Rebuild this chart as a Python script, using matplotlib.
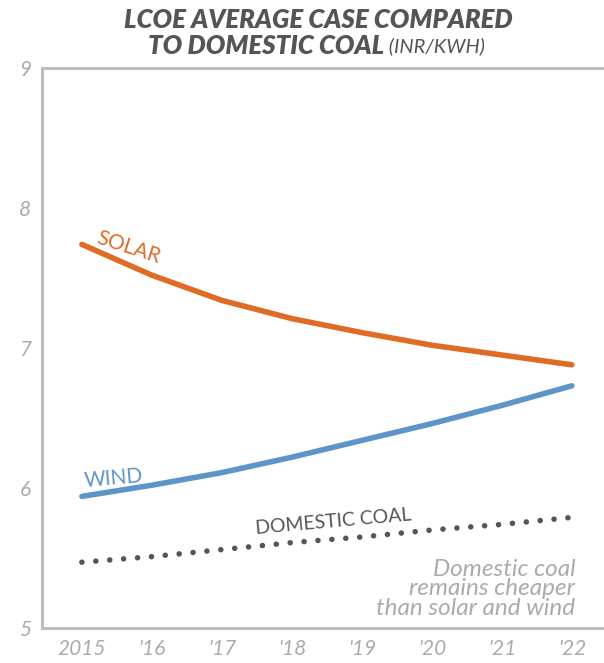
import matplotlib.pyplot as plt

years = [2015, 2016, 2017, 2018, 2019, 2020, 2021, 2022]
year_labels = ['2015', "'16", "'17", "'18", "'19", "'20", "'21", "'22"]
solar = [7.74, 7.52, 7.34, 7.21, 7.11, 7.02, 6.95, 6.88]
wind = [5.94, 6.02, 6.11, 6.22, 6.34, 6.46, 6.59, 6.73]
coal = [5.47, 5.51, 5.56, 5.61, 5.65, 5.70, 5.74, 5.79]
y_ticks = [5, 6, 7, 8, 9]

orange = '#E06B25'
blue = '#5E95C8'
dark = '#555555'
light = '#ABABAB'

fig = plt.figure(figsize=(6.04, 6.63), dpi=100)
ax = fig.add_axes([42/604, 35/663, 1 - 42/604, 560/663])

ax.plot(years, solar, color=orange, lw=4, solid_capstyle='round')
ax.plot(years, wind, color=blue, lw=4, solid_capstyle='round')
ax.plot(years, coal, color=dark, lw=4, ls=(0, (0.01, 2.5)), dash_capstyle='round')

ax.set_xlim(2014.43, 2022.46)
ax.set_ylim(5, 9)
ax.set_xticks(years)
ax.set_xticklabels(year_labels)
ax.set_yticks(y_ticks)
ax.tick_params(length=0, labelsize=15, labelcolor=light, pad=8)
for lab in ax.get_xticklabels() + ax.get_yticklabels():
    lab.set_family('Lato')
    lab.set_style('italic')

for s in ['left', 'top', 'bottom']:
    ax.spines[s].set_color('#BDBDC0')
    ax.spines[s].set_linewidth(2.2)
ax.spines['right'].set_visible(False)

# series labels
ax.text(2015.66, 7.72, 'SOLAR', color=orange, fontsize=15, family='Lato',
        rotation=-18, ha='center', va='center')
ax.text(2015.45, 6.07, 'WIND', color=blue, fontsize=15, family='Lato',
        rotation=5, ha='center', va='center')
ax.text(2018.6, 5.76, 'DOMESTIC COAL', color=dark, fontsize=14, family='Lato',
        rotation=5, ha='center', va='center')
ax.text(2022.05, 5.28, 'Domestic coal\nremains cheaper\nthan solar and wind', color=light,
        fontsize=17.5, family='Lato', style='italic', ha='right', va='center',
        linespacing=0.92)

# title
fig.text(318/604, 1 - 20/663, 'LCOE AVERAGE CASE COMPARED', color=dark, fontsize=18.5,
         family='Lato', style='italic', weight='heavy', ha='center', va='center')
t2 = fig.text(384/604, 1 - 46/663, 'TO DOMESTIC COAL', color=dark, fontsize=18.5,
              family='Lato', style='italic', weight='heavy', ha='right', va='center')
fig.add_artist(plt.Annotation(' (INR/KWH)', xy=(1, 0.12), xycoords=t2, va='bottom', ha='left',
                              color=dark, fontsize=14.5, family='Lato', style='italic'))

fig.savefig('out.png', dpi=100)
